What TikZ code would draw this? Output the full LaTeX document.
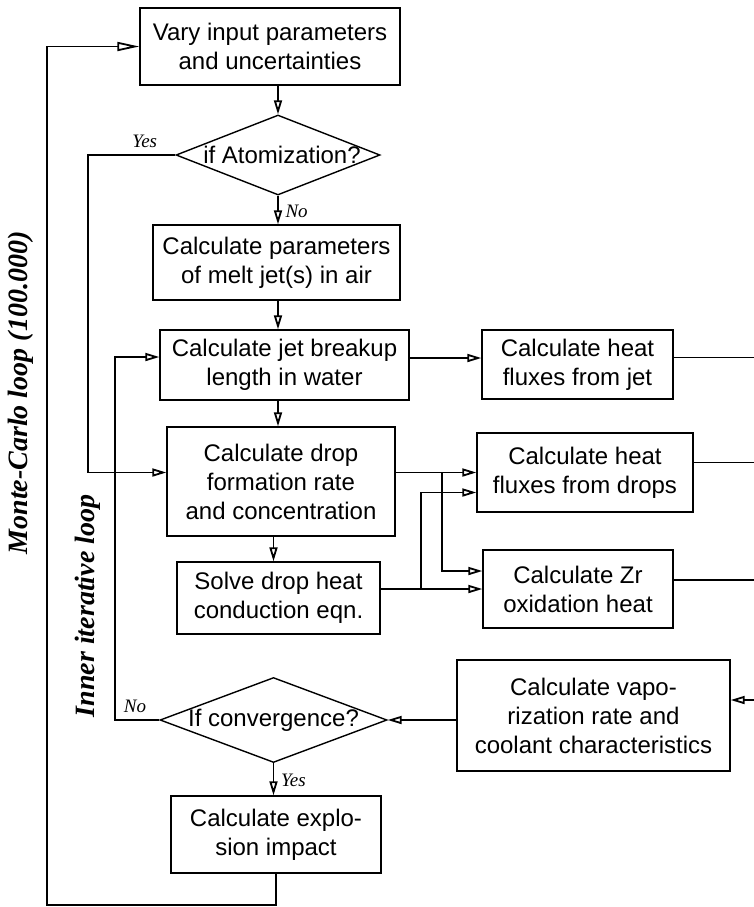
\documentclass[tikz,border=0pt]{standalone}
\usepackage{fontspec}
\setmainfont{Liberation Serif}
\setsansfont{Liberation Sans}
\usetikzlibrary{arrows.meta,shapes.geometric}

\begin{document}
\begin{tikzpicture}[
	x=0.5pt, y=-0.5pt,
	box/.style={
		draw, line width=0.7pt,
		align=center,
		font=\sffamily\fontsize{12}{14.5}\selectfont,
		inner sep=0pt
	},
	dia/.style={
		draw, diamond, line width=0.7pt,
		inner sep=0pt
	},
	dtext/.style={font=\sffamily\fontsize{12}{14.5}\selectfont},
	arr/.style={-{Triangle[open,length=7pt,width=4pt]}},
	ans/.style={font=\itshape\fontsize{9.5}{11}\selectfont},
	loopname/.style={rotate=90, font=\bfseries\itshape\fontsize{14}{16}\selectfont},
	line width=0.9pt
	]
	\useasboundingbox (0,0) rectangle (754,907);

	\node[box, minimum width=130pt, minimum height=38.5pt] (vary) at (270,46.5)
	{Vary input parameters\\and uncertainties};
	\node[dia, minimum width=102pt, minimum height=40pt, label={[dtext, xshift=2pt]center:if Atomization?}] (atom) at (278,155) {};
	\node[box, minimum width=123.5pt, minimum height=37.5pt] (param) at (276.5,262.5)
	{Calculate parameters\\of melt jet(s) in air};
	\node[box, minimum width=124.5pt, minimum height=35pt] (jet) at (284.5,365)
	{Calculate jet breakup\\length in water};
	\node[box, minimum width=114pt, minimum height=54.5pt] (drop) at (281,481.5)
	{Calculate drop\\formation rate\\and concentration};
	\node[box, minimum width=101.5pt, minimum height=36pt] (solve) at (278.5,598)
	{Solve drop heat\\conduction eqn.};
	\node[dia, minimum width=113.5pt, minimum height=42.5pt, label={[dtext]center:If convergence?}] (conv) at (273.5,720) {};
	\node[box, minimum width=105pt, minimum height=38.5pt] (expl) at (276,834.5)
	{Calculate explo-\\sion impact};
	\node[box, minimum width=95.5pt, minimum height=34.5pt] (hjet) at (577.5,364.5)
	{Calculate heat\\fluxes from jet};
	\node[box, minimum width=108pt, minimum height=39.5pt] (hdrop) at (585,472.5)
	{Calculate heat\\fluxes from drops};
	\node[box, minimum width=95pt, minimum height=39pt] (zr) at (578,589)
	{Calculate Zr\\oxidation heat};
	\node[box, minimum width=136.5pt, minimum height=55.5pt] (vapo) at (593.5,715.5)
	{Calculate vapo-\\rization rate and\\coolant characteristics};

	\node[loopname] (mcl) at (21,393) {Monte-Carlo loop (100.000)};
	\node[loopname] (inl) at (88,606) {Inner iterative loop};

	\coordinate (yesx) at (88,0);
	\coordinate (innx) at (115,0);
	\coordinate (jx1) at (442,0);
	\coordinate (jx2) at (421,0);
	\coordinate (redge) at (754,0);
	\coordinate (mcb) at (47,905);
	\coordinate (vin) at (754,700);
	\coordinate (dropin) at ([yshift=4.5pt]drop.west);
	\coordinate (dropout) at ([yshift=4.5pt]drop.east);
	\coordinate (jetin) at ([yshift=4pt]jet.west);

	\draw[arr] (vary.south -| atom) -- (atom.north);
	\draw[arr] (atom.south) -- node[ans, right, pos=0.55] {No} (atom.south |- param.north);
	\draw[arr] (param.south -| atom) -- (jet.north -| atom);
	\draw[arr] (jet.south -| atom) -- (drop.north -| atom);
	\draw[arr] (drop.south -| conv) -- (solve.north -| conv);
	\draw[arr] (conv.south) -- node[ans, right, pos=0.55] {Yes} (conv.south |- expl.north);

	\draw[arr] (atom.west) -- node[ans, above, pos=0.35] {Yes} (atom.west -| yesx) |- (dropin);
	\draw[arr] (conv.west) -- node[ans, above, pos=0.55] {No} (conv.west -| innx) |- (jetin);

	\draw[arr] ([yshift=3.5pt]jet.east) -- ([yshift=3.5pt]jet.east -| hjet.west);
	\draw[arr] (dropout) -- (dropout -| hdrop.west);
	\draw[arr] (dropout -| jx1) |- ([yshift=9pt]zr.west);
	\draw[arr] (solve.east |- zr.west) -- (zr.west);
	\draw[arr] (zr.west -| jx2) |- ([yshift=-10pt]hdrop.west);

	\draw ([yshift=3.5pt]hjet.east) -- ([yshift=3.5pt]hjet.east -| redge);
	\draw ([yshift=5pt]hdrop.east) -- ([yshift=5pt]hdrop.east -| redge);
	\draw ([yshift=4.5pt]zr.east) -- ([yshift=4.5pt]zr.east -| redge);
	\draw[arr] (vin) -- (vin -| vapo.east);
	\draw[arr] (vapo.west |- conv.east) -- (conv.east);

	\draw[-{Triangle[open,length=11pt,width=4.5pt]}] (expl.south) |- (mcb) |- (vary.west);
\end{tikzpicture}
\end{document}
